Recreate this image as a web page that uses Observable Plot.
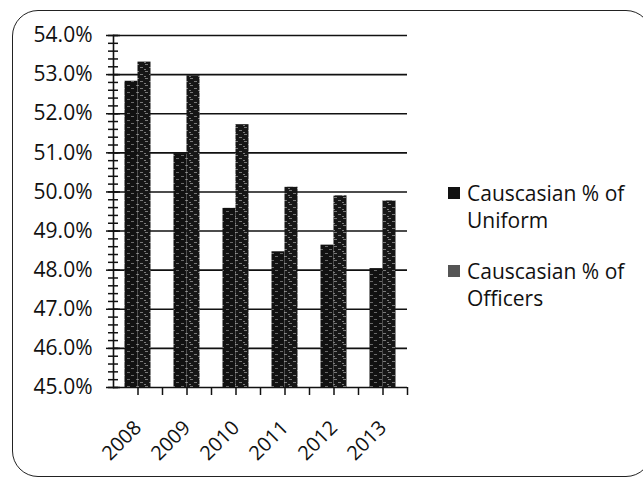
<!DOCTYPE html>
<html>
<head>
<meta charset="utf-8">
<script src="https://cdn.jsdelivr.net/npm/d3@7"></script>
<script src="https://cdn.jsdelivr.net/npm/@observablehq/plot@0.6"></script>
<style>
  html, body { margin: 0; padding: 0; background: #fff; overflow: hidden; }
  #wrap { position: relative; width: 643px; height: 478px; }
  #border { position: absolute; left: 12px; top: 10px; width: 640px; height: 467px;
            border: 1.6px solid #222; border-radius: 26px; box-sizing: border-box; pointer-events: none; }
  #legend { position: absolute; left: 448px; top: 180px; font-family: "Open Sans", sans-serif;
            font-size: 21px; color: #111; line-height: 27px; }
  .item { position: relative; padding-left: 19px; margin-bottom: 24px; }
  .sw { position: absolute; left: 0; top: 7px; width: 12px; height: 12px; }
</style>
</head>
<body>
<div id="wrap">
  <div id="chart"></div>
  <div id="border"></div>
  <div id="legend"></div>
</div>
<script>
const years = ["2008", "2009", "2010", "2011", "2012", "2013"];
const uniform = [52.83, 50.98, 49.58, 48.47, 48.64, 48.04];
const officers = [53.32, 52.97, 51.72, 50.12, 49.90, 49.77];
const yTicks = [45, 46, 47, 48, 49, 50, 51, 52, 53, 54];
const seriesNames = ["Causcasian % of Uniform", "Causcasian % of Officers"];
const seriesFills = ["url(#pUni)", "url(#pOff)"];

const rows = years.map((y, i) => ({year: y, uniform: uniform[i], officers: officers[i]}));
const yMin = yTicks[0], yMax = yTicks[yTicks.length - 1];

const chart = Plot.plot({
  width: 643,
  height: 478,
  marginLeft: 113,
  marginRight: 236,
  marginTop: 35,
  marginBottom: 91,
  x: {domain: years, padding: 0, axis: null},
  y: {domain: [yMin, yMax], axis: null},
  style: {fontFamily: "Open Sans, sans-serif", fontSize: "20px", color: "#111", background: "transparent"},
  marks: [
    Plot.ruleY(yTicks, {stroke: "#111", strokeWidth: 1.6}),
    Plot.barY(rows, {x: "year", y1: yMin, y2: "uniform", fill: seriesFills[0], insetLeft: 11.5, insetRight: 24.5}),
    Plot.barY(rows, {x: "year", y1: yMin, y2: "officers", fill: seriesFills[1], insetLeft: 24.5, insetRight: 11.5}),
    Plot.axisY({interval: 0.2, tickSize: 10, dx: 5, text: null, strokeWidth: 1.5}),
    Plot.axisY({ticks: yTicks, tickSize: 14, dx: 7, text: null, strokeWidth: 1.5}),
    Plot.axisY({ticks: yTicks, tickSize: 0, tickPadding: 21, tickFormat: d => d.toFixed(1) + "%", label: null, fontSize: 21}),
    Plot.frame({anchor: "left", strokeWidth: 1.6}),
    Plot.axisX({tickSize: 8, text: null, strokeWidth: 1.5, label: null}),
    Plot.axisX({tickSize: 8, dx: 24.5, text: null, strokeWidth: 1.5, label: null}),
    Plot.axisX({tickSize: 0, tickRotate: -45, tickPadding: 37, label: null, fontSize: 20})
  ]
});

// texture patterns for the scanned-looking bars
const svg = d3.select(chart);
const defs = svg.insert("defs", ":first-child");
function pattern(id, bg, streak, n) {
  const p = defs.append("pattern").attr("id", id).attr("patternUnits", "userSpaceOnUse")
    .attr("width", 9).attr("height", 7);
  p.append("rect").attr("width", 9).attr("height", 7).attr("fill", bg);
  const spots = [[1,1,3],[5,4,3],[0,6,2],[6,2,2]];
  spots.slice(0, n).forEach(([x, y, w]) => p.append("rect").attr("x", x).attr("y", y).attr("width", w).attr("height", 1).attr("fill", streak));
}
pattern("pUni", "#111", "#6a6a6a", 2);
pattern("pOff", "#161616", "#7a7a7a", 3);

document.getElementById("chart").appendChild(chart);

const legend = d3.select("#legend");
const labels = [["Causcasian % of", "Uniform"], ["Causcasian % of", "Officers"]];
const swatchColors = ["#111", "#555"];
labels.forEach((lines, i) => {
  const it = legend.append("div").attr("class", "item");
  it.append("div").attr("class", "sw").style("background", swatchColors[i]);
  it.append("div").html(lines.join("<br>"));
});
</script>
</body>
</html>
